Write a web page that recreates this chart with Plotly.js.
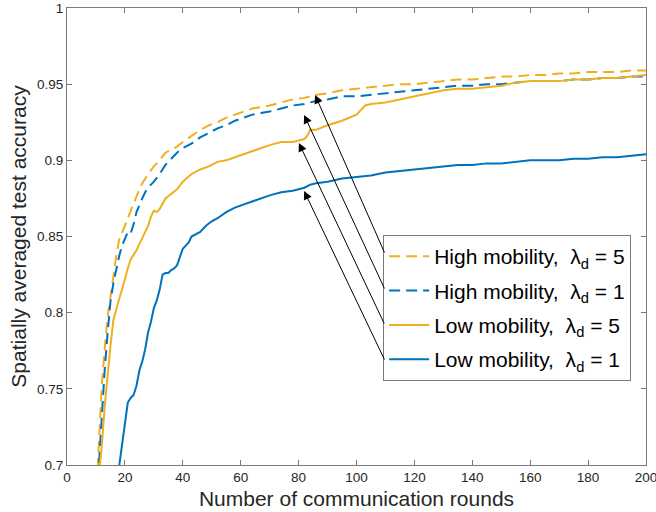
<!DOCTYPE html>
<html>
<head>
<meta charset="utf-8">
<script src="https://cdn.plot.ly/plotly-3.0.1.min.js"></script>
<style>html,body{margin:0;padding:0;background:#fff;}#chart{width:656px;height:512px;}</style>
</head>
<body>
<div id="chart"></div>
<script>
// ---- data ----
const seriesNames = ["High mobility,  λ<sub>d</sub> = 5", "High mobility,  λ<sub>d</sub> = 1",
                     "Low mobility,  λ<sub>d</sub> = 5", "Low mobility,  λ<sub>d</sub> = 1"];

const roundsHigh = [10,11,12,13,14,15,16,17,18,19,20,21,22,23,24,25,26,27,28,30,32,34,36,38,40,43,46,49,52,55,58,61,64,67,70,74,78,82,86,90,95,100,105,110,115,120,125,130,135,140,145,150,155,160,165,170,175,180,185,190,195,200];
const accHigh5 = [0.675,0.712,0.752,0.776,0.797,0.810,0.824,0.837,0.848,0.852,0.857,0.862,0.867,0.872,0.877,0.881,0.885,0.888,0.891,0.896,0.900,0.905,0.907,0.909,0.912,0.916,0.920,0.923,0.925,0.928,0.930,0.932,0.934,0.935,0.936,0.938,0.940,0.941,0.943,0.944,0.946,0.947,0.948,0.949,0.950,0.950,0.951,0.952,0.953,0.953,0.954,0.955,0.955,0.956,0.956,0.957,0.957,0.958,0.958,0.958,0.959,0.959];
const accHigh1 = [0.668,0.701,0.735,0.762,0.786,0.807,0.819,0.829,0.837,0.844,0.849,0.853,0.852,0.858,0.866,0.871,0.875,0.879,0.882,0.886,0.891,0.897,0.901,0.905,0.908,0.911,0.915,0.918,0.921,0.923,0.926,0.928,0.930,0.931,0.932,0.934,0.936,0.937,0.939,0.940,0.942,0.942,0.943,0.944,0.945,0.946,0.947,0.948,0.949,0.949,0.950,0.950,0.951,0.952,0.952,0.952,0.953,0.953,0.954,0.954,0.955,0.955];

const roundsLow5 = [10,11,12,13,14,15,16,17,18,19,20,21,22,23,24,25,26,27,28,29,30,31,32,34,36,38,40,43,46,49,52,55,58,61,64,67,70,74,78,80,82,83,84,86,90,95,100,103,105,110,115,120,125,130,135,140,145,150,155,160,165,170,175,180,185,190,195,200];
const accLow5 = [0.675,0.693,0.712,0.738,0.760,0.778,0.795,0.803,0.809,0.815,0.823,0.829,0.835,0.838,0.841,0.845,0.849,0.853,0.857,0.863,0.867,0.866,0.868,0.875,0.878,0.881,0.886,0.891,0.894,0.896,0.899,0.900,0.902,0.904,0.906,0.908,0.910,0.912,0.912,0.913,0.914,0.916,0.920,0.920,0.923,0.926,0.930,0.936,0.937,0.938,0.940,0.942,0.944,0.946,0.947,0.947,0.948,0.949,0.951,0.952,0.952,0.952,0.953,0.953,0.954,0.954,0.955,0.956];

const roundsLow1 = [17,18,19,20,21,22,23,24,25,26,27,28,29,30,31,32,33,34,35,36,37,38,39,40,41,42,43,44,46,48,50,52,55,58,61,64,67,70,74,78,82,84,86,90,95,100,105,110,115,120,125,130,135,140,145,150,155,160,165,170,175,180,185,190,195,200];
const accLow1 = [0.688,0.699,0.713,0.727,0.741,0.744,0.746,0.752,0.762,0.768,0.776,0.787,0.794,0.803,0.808,0.815,0.825,0.826,0.826,0.828,0.829,0.831,0.836,0.842,0.844,0.846,0.850,0.851,0.853,0.857,0.860,0.862,0.866,0.869,0.871,0.873,0.875,0.877,0.879,0.880,0.882,0.884,0.885,0.886,0.888,0.889,0.890,0.892,0.893,0.894,0.895,0.896,0.897,0.897,0.898,0.898,0.899,0.900,0.900,0.900,0.901,0.901,0.902,0.902,0.903,0.904];

// arrow targets (round, accuracy) for each legend entry
const arrowRounds = [85.7, 81.9, 80.1, 81.9];
const arrowAcc = [0.9429, 0.9298, 0.9114, 0.8799];

const xTicks = [0,20,40,60,80,100,120,140,160,180,200];
const yTicks = [0.7,0.75,0.8,0.85,0.9,0.95,1];
const yTickText = ["0.7","0.75","0.8","0.85","0.9","0.95","1"];

// ---- styles ----
const ORANGE = "#EDB120", BLUE = "#0072BD";
const dashPat = "11px,6px";
const fontFam = "Liberation Sans, Arial, sans-serif";

const traces = [
  {x: roundsHigh, y: accHigh5, name: seriesNames[0], line: {color: ORANGE, width: 2, dash: dashPat}, legendgroup: "a"},
  {x: roundsHigh, y: accHigh1, name: seriesNames[1], line: {color: BLUE, width: 2, dash: dashPat}, legendgroup: "b"},
  {x: roundsLow5, y: accLow5, name: seriesNames[2], line: {color: ORANGE, width: 2}, legendgroup: "c"},
  {x: roundsLow1, y: accLow1, name: seriesNames[3], line: {color: BLUE, width: 2}, legendgroup: "d"}
].map(t => Object.assign({type: "scatter", mode: "lines", hoverinfo: "skip"}, t));

const tailOffsets = [[70,159],[81,175],[86,182],[81,170]];
const annotations = arrowRounds.map((r, i) => ({
  x: r, y: arrowAcc[i], xref: "x", yref: "y",
  ax: tailOffsets[i][0], ay: tailOffsets[i][1],
  showarrow: true, arrowhead: 2, arrowsize: 1.7, arrowwidth: 1, arrowcolor: "#000", text: ""
}));

const axisCommon = {
  showline: true, linecolor: "#7a7a7a", linewidth: 1, mirror: "ticks",
  ticks: "inside", ticklen: 5, tickcolor: "#7a7a7a", tickwidth: 1,
  showgrid: false, zeroline: false, ticklabeloverflow: "allow",
  tickfont: {family: fontFam, size: 13.5, color: "#262626"}
};

const layout = {
  width: 656, height: 512,
  margin: {l: 67, r: 10, t: 8, b: 47},
  paper_bgcolor: "#fff", plot_bgcolor: "#fff",
  font: {family: fontFam, color: "#262626"},
  xaxis: Object.assign({}, axisCommon, {
    range: [0, 200], tickvals: xTicks, ticktext: xTicks.map(String),
    title: {text: "Number of communication rounds", font: {family: fontFam, size: 21, color: "#262626"}, standoff: 7}
  }),
  yaxis: Object.assign({}, axisCommon, {
    range: [0.7, 1], tickvals: yTicks, ticktext: yTickText,
    title: {text: "Spatially averaged test accuracy", font: {family: fontFam, size: 21, color: "#262626"}, standoff: 4}
  }),
  showlegend: true,
  legend: {
    x: 0.546, y: 0.503, xanchor: "left", yanchor: "top",
    bgcolor: "#fff", bordercolor: "#7a7a7a", borderwidth: 1,
    font: {family: fontFam, size: 21, color: "#000"},
    tracegroupgap: 4, itemwidth: 40
  },
  annotations: annotations
};

Plotly.newPlot("chart", traces, layout, {staticPlot: true, displayModeBar: false});
</script>
</body>
</html>
